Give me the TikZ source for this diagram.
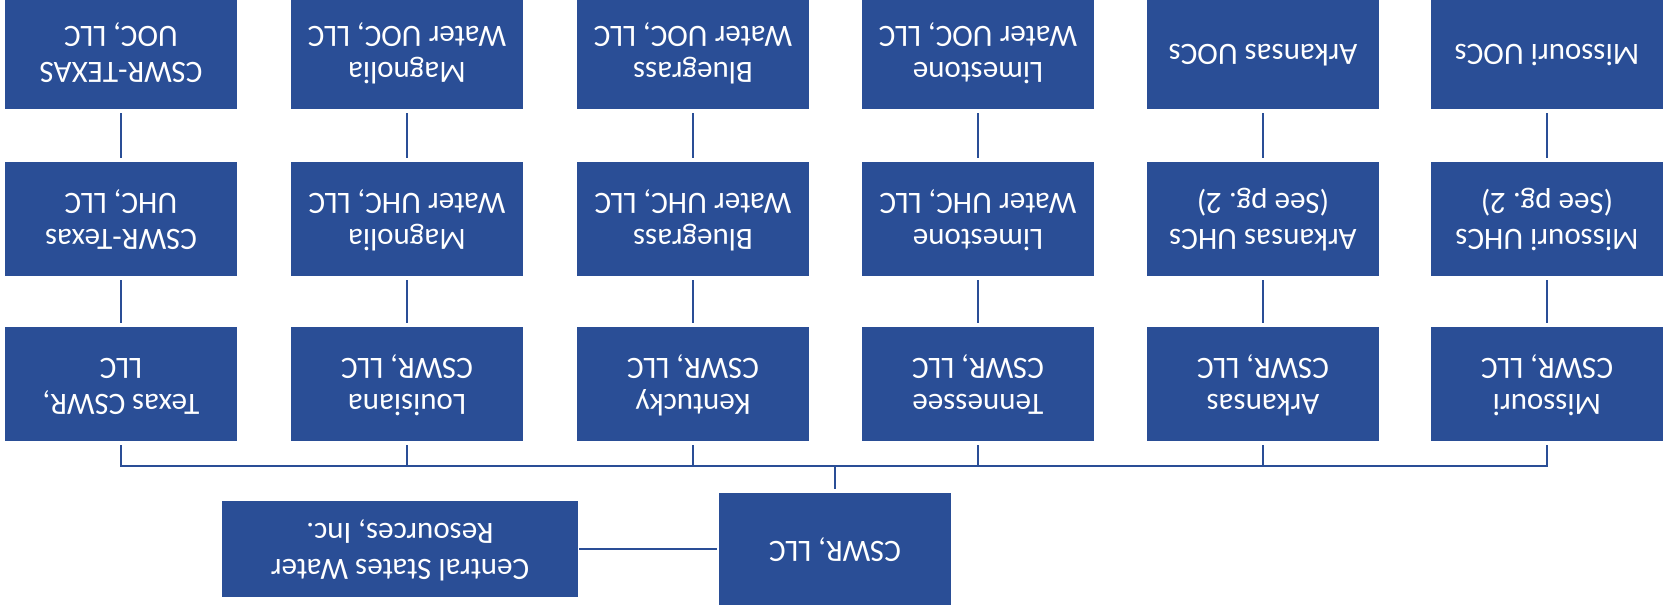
\documentclass[tikz,border=0pt]{standalone}
\usepackage{fontspec}
\setmainfont{Carlito}
\usepackage{graphicx}
\frenchspacing
\definecolor{cblue}{RGB}{42,78,150}
\newcommand{\flip}[1]{\rotatebox[origin=c]{180}{\begin{tabular}{@{}c@{}}#1\end{tabular}}}
\begin{document}
\begin{tikzpicture}[x=1pt,y=-1pt,
  box/.style={fill=cblue, draw=none, minimum width=232pt, minimum height=114pt, inner sep=0pt, text=white, font=\fontsize{31}{36.5}\selectfont},
  link/.style={draw=cblue, line width=1.6pt, shorten <=4pt, shorten >=4pt},
  stub/.style={draw=cblue, line width=1.6pt, shorten <=4pt}]
\useasboundingbox[fill=white] (0,0) rectangle (1664,612);
% top row (UOCs)
\node[box] (t1) at (121,52) {\flip{CSWR-TEXAS\\UOC, LLC}};
\node[box] (t2) at (407,52) {\flip{Magnolia\\Water UOC, LLC}};
\node[box] (t3) at (693,52) {\flip{Bluegrass\\Water UOC, LLC}};
\node[box] (t4) at (978,52) {\flip{Limestone\\Water UOC, LLC}};
\node[box] (t5) at (1263,52) {\flip{Arkansas UOCs}};
\node[box] (t6) at (1547,52) {\flip{Missouri UOCs}};
% middle row (UHCs)
\node[box] (m1) at (121,219) {\flip{CSWR-Texas\\UHC, LLC}};
\node[box] (m2) at (407,219) {\flip{Magnolia\\Water UHC, LLC}};
\node[box] (m3) at (693,219) {\flip{Bluegrass\\Water UHC, LLC}};
\node[box] (m4) at (978,219) {\flip{Limestone\\Water UHC, LLC}};
\node[box] (m5) at (1263,219) {\flip{Arkansas UHCs\\(See pg. 2)}};
\node[box] (m6) at (1547,219) {\flip{Missouri UHCs\\(See pg. 2)}};
% bottom row (state CSWR)
\node[box] (b1) at (121,384) {\flip{Texas CSWR,\\LLC}};
\node[box] (b2) at (407,384) {\flip{Louisiana\\CSWR, LLC}};
\node[box] (b3) at (693,384) {\flip{Kentucky\\CSWR, LLC}};
\node[box] (b4) at (978,384) {\flip{Tennessee\\CSWR, LLC}};
\node[box] (b5) at (1263,384) {\flip{Arkansas\\CSWR, LLC}};
\node[box] (b6) at (1547,384) {\flip{Missouri\\CSWR, LLC}};
% parents
\node[box, minimum height=112pt] (cswr) at (835,549) {\flip{CSWR, LLC}};
\node[box, minimum width=356pt, minimum height=96pt] (csw) at (400,549) {\flip{Central States Water\\Resources, Inc.}};
\coordinate (bus) at (835,466);
% vertical links
\foreach \i in {1,...,6}{
  \draw[link] (t\i.south) -- (m\i.north);
  \draw[link] (m\i.south) -- (b\i.north);
}
\draw[link] (b1.south) -- (b1.south |- bus) -- (b6.south |- bus) -- (b6.south);
\foreach \i in {2,...,5}{
  \draw[stub] (b\i.south) -- (b\i.south |- bus);
}
\draw[draw=cblue, line width=1.6pt, shorten >=4pt] (bus) -- (cswr.north);
\draw[draw=cblue, line width=1.6pt, shorten <=1pt, shorten >=2pt] (csw.east) -- (cswr.west);
\end{tikzpicture}
\end{document}
